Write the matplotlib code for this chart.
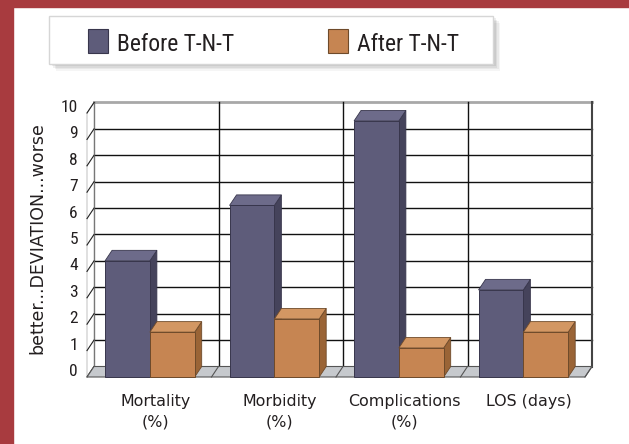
import numpy as np
import matplotlib
matplotlib.use("Agg")
import matplotlib.pyplot as plt
from matplotlib.patches import Polygon, Rectangle
from matplotlib.transforms import offset_copy

# data (front-face heights)
categories = ["Mortality\n(%)", "Morbidity\n(%)", "Complications\n(%)", "LOS (days)"]
series = ["Before T-N-T", "After T-N-T"]
before = [4.4, 6.5, 9.7, 3.3]
after = [1.7, 2.2, 1.1, 1.7]
yticks = list(range(0, 11))
ylabel = "better...DEVIATION...worse"

# styles
face = {"front": ["#5e5c7a", "#c68552"], "top": ["#6d6b8a", "#d39763"],
        "side": ["#45435b", "#9a6436"], "edge": ["#38364c", "#6e4a2a"]}
red = "#a83b3f"
ink = "#231f20"
narrow = ["Liberation Sans Narrow", "DejaVu Sans Condensed", "Roboto Condensed",
          "Liberation Sans", "DejaVu Sans"]

W, H = 629, 444
fig = plt.figure(figsize=(W / 100, H / 100), dpi=100)


def fx(px):
    return px / W


def fy(py):
    return 1 - py / H


# red frame (left and top)
fig.patches.append(Rectangle((0, 0), 13 / W, 1, transform=fig.transFigure,
                             color=red, zorder=0))
fig.patches.append(Rectangle((0, fy(7)), 1, 7 / H, transform=fig.transFigure,
                             color=red, zorder=0))

# front plane of the 3d box
ax = fig.add_axes([fx(87), fy(377), 498 / W, 264 / H])
ax.set_xlim(0, len(categories))
ax.set_ylim(0, 10)
ax.axis("off")

# depth offset (pixels -> data units)
p0 = ax.transData.transform((0, 0))
ddx, ddy = ax.transData.inverted().transform(p0 + np.array([7.0, 10.5]))
n = len(categories)
top = yticks[-1]

# back wall + grid
ax.add_patch(Polygon([(ddx, ddy), (n + ddx, ddy), (n + ddx, top + ddy), (ddx, top + ddy)],
                     fc="white", ec="none", clip_on=False, zorder=1))
for k in yticks[1:-1]:
    ax.plot([ddx, n + ddx], [k + ddy] * 2, color="#111111", lw=1.0, clip_on=False, zorder=2)
ax.plot([ddx, n + ddx], [top + ddy] * 2, color="#a8a8a8", lw=2, clip_on=False, zorder=2)
for i in range(1, n):
    ax.plot([i + ddx] * 2, [ddy, top + ddy], color="#111111", lw=1.0, clip_on=False, zorder=2)
ax.plot([n + ddx] * 2, [ddy, top + ddy], color="#444444", lw=1.5, clip_on=False, zorder=2)
ax.plot([ddx] * 2, [ddy, top + ddy], color="#333333", lw=0.9, clip_on=False, zorder=2)

# left wall
ax.add_patch(Polygon([(0, 0), (ddx, ddy), (ddx, top + ddy), (0, top)],
                     fc="white", ec="#c0c0c0", lw=0.7, clip_on=False, zorder=3))
for k in yticks:
    ax.plot([0, ddx], [k, k + ddy], color="#222222", lw=0.8, clip_on=False, zorder=3)

# floor
ax.add_patch(Polygon([(0, 0), (n, 0), (n + ddx, ddy), (ddx, ddy)],
                     fc="#c6c9cd", ec="#555555", lw=0.8, clip_on=False, zorder=3))
for i in range(1, n + 1):
    ax.plot([i, i + ddx], [0, ddy], color="#555555", lw=0.8, clip_on=False, zorder=3)

# bars
w = 0.36
offs = [0.325, 0.685]
z = 4
for i in range(n):
    for s, vals in enumerate([before, after]):
        c = i + offs[s]
        h = vals[i]
        x0, x1 = c - w / 2, c + w / 2
        ax.add_patch(Polygon([(x1, 0), (x1 + ddx, ddy), (x1 + ddx, h + ddy), (x1, h)],
                             fc=face["side"][s], ec=face["edge"][s], lw=0.6,
                             clip_on=False, zorder=z))
        ax.add_patch(Polygon([(x0, h), (x1, h), (x1 + ddx, h + ddy), (x0 + ddx, h + ddy)],
                             fc=face["top"][s], ec=face["edge"][s], lw=0.6,
                             clip_on=False, zorder=z))
        ax.bar(c, h, width=w, color=face["front"][s], edgecolor=face["edge"][s],
               lw=0.7, clip_on=False, zorder=z + 0.5)
        z += 1

# value axis labels
tick_tr = offset_copy(ax.transData, fig=fig, x=-9, y=1, units="dots")
for k in yticks:
    ax.text(0, k, str(k), transform=tick_tr, ha="right", va="baseline",
            family=narrow, fontstretch="condensed", fontsize=12.5, color=ink)

# category labels
cat_tr = offset_copy(ax.transData, fig=fig, x=6, y=-17, units="dots")
for i, cat in enumerate(categories):
    ax.text(i + 0.5, 0, cat, transform=cat_tr, ha="center", va="top",
            multialignment="center", linespacing=1.45, fontsize=11.4, color=ink)

fig.text(fx(37), fy(238), ylabel, rotation=90, ha="center", va="center",
         fontsize=12.5, color=ink)

# legend box with soft shadow
for j, a in enumerate([0.04, 0.05, 0.06, 0.07]):
    o = 7 - 1.5 * j
    fig.patches.append(Rectangle((fx(49 + o), fy(64 + o)), 444 / W, 48 / H,
                                 transform=fig.transFigure, fc="#000000", alpha=a,
                                 ec="none", zorder=1))
fig.patches.append(Rectangle((fx(49), fy(64)), 444 / W, 48 / H, transform=fig.transFigure,
                             fc="white", ec="#d6d6d6", lw=1, zorder=2))
for s, (px, tx) in enumerate([(88, 117), (328, 357)]):
    fig.patches.append(Rectangle((fx(px), fy(53)), 20 / W, 24 / H, transform=fig.transFigure,
                                 fc=face["front"][s], ec=face["edge"][s], lw=0.8, zorder=3))
    fig.text(fx(tx), fy(51), series[s], ha="left", va="baseline", family=narrow,
             fontstretch="condensed", fontsize=17, color=ink, zorder=3)

fig.savefig("out.png", dpi=100)
